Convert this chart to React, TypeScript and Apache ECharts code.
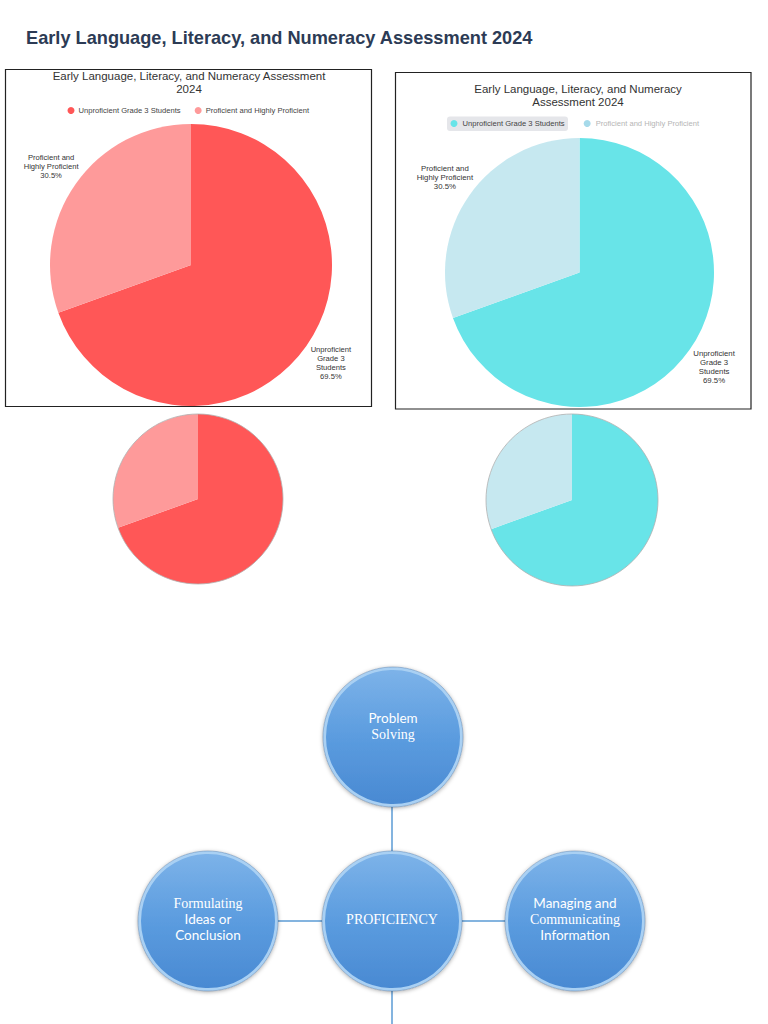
import React, { useEffect, useRef } from "react";
import * as echarts from "echarts";

// ---------- data ----------
const pageTitle = "Early Language, Literacy, and Numeracy Assessment 2024";
const leftChartTitle = "Early Language, Literacy, and Numeracy Assessment\n2024";
const rightChartTitle = "Early Language, Literacy, and Numeracy\nAssessment 2024";
const categories = ["Unproficient Grade 3 Students", "Proficient and Highly Proficient"];
const values = [69.5, 30.5];
const sliceLabels = ["Unproficient\nGrade 3\nStudents", "Proficient and\nHighly Proficient"];
const redColors = ["#FF5757", "#FE9A9A"];
const cyanColors = ["#68E4E8", "#C6E8F0"];

// diagram labels: [styleKey, text] per line ("s" = sans, "r" = serif)
const diagramCenterLabel: [string, string][] = [["r", "PROFICIENCY"]];
const diagramTopLabel: [string, string][] = [["s", "Problem"], ["r", "Solving"]];
const diagramLeftLabel: [string, string][] = [["r", "Formulating"], ["s", "Ideas or"], ["s", "Conclusion"]];
const diagramRightLabel: [string, string][] = [["s", "Managing and"], ["r", "Communicating"], ["s", "Information"]];

// ---------- layout ----------
const BIG_L = { cx: 191, cy: 265, r: 141 };
const BIG_R = { cx: 579.5, cy: 272.5, r: 134.5 };
const SMALL_L = { cx: 198, cy: 499, r: 85 };
const SMALL_R = { cx: 572, cy: 500, r: 86 };
const NODE_R = 70;
const N_TOP = { x: 393, y: 737 };
const N_CENTER = { x: 392, y: 921 };
const N_LEFT = { x: 208, y: 921 };
const N_RIGHT = { x: 575, y: 921 };

const pieData = (colors: string[]) =>
  categories.map((name, i) => ({ name, value: values[i], itemStyle: { color: colors[i] } }));

const bigPie = (pos: { cx: number; cy: number; r: number }, colors: string[], fontSize: number, lh: number) => ({
  type: "pie",
  center: [pos.cx, pos.cy],
  radius: pos.r,
  startAngle: 90,
  clockwise: true,
  avoidLabelOverlap: false,
  data: pieData(colors),
  emphasis: { disabled: true },
  label: {
    show: true,
    position: "outside",
    formatter: (p: any) => `{t|${sliceLabels[p.dataIndex]}\n${p.value}%}`,
    rich: {
      t: {
        width: 70,
        align: "center",
        fontSize,
        lineHeight: lh,
        color: "#333",
        fontFamily: "Liberation Sans, Arial, sans-serif",
      },
    },
  },
  labelLine: { show: false, length: 30, length2: -40 },
});

const smallPie = (pos: { cx: number; cy: number; r: number }, colors: string[]) => ({
  type: "pie",
  center: [pos.cx, pos.cy],
  radius: pos.r,
  startAngle: 90,
  clockwise: true,
  data: pieData(colors),
  emphasis: { disabled: true },
  label: { show: false },
  labelLine: { show: false },
});

const richStyles = {
  s: { fontFamily: "Lato, Liberation Sans, sans-serif", fontSize: 13.5, lineHeight: 16, fill: "#ffffff" },
  r: { fontFamily: "Liberation Serif, serif", fontSize: 14, lineHeight: 16, fill: "#ffffff" },
};

const nodeGraphics = (p: { x: number; y: number }, label: [string, string][], textDy: number) => [
  {
    type: "circle",
    z: 10,
    shape: { cx: p.x, cy: p.y, r: NODE_R - 1.5 },
    style: {
      fill: new echarts.graphic.LinearGradient(0, 0, 0, 1, [
        { offset: 0, color: "#7DB3E9" },
        { offset: 0.5, color: "#5B9CDF" },
        { offset: 1, color: "#4989D2" },
      ]),
      stroke: "#A9D0F3",
      lineWidth: 3,
      shadowBlur: 4,
      shadowOffsetY: 1,
      shadowColor: "rgba(0,0,0,0.35)",
    },
  },
  {
    type: "circle",
    z: 11,
    shape: { cx: p.x, cy: p.y, r: NODE_R },
    style: { fill: "none", stroke: "rgba(60,100,150,0.45)", lineWidth: 0.8 },
  },
  {
    type: "text",
    z: 12,
    style: {
      x: p.x,
      y: p.y + textDy,
      align: "center",
      verticalAlign: "middle",
      fill: "#ffffff",
      text: label.map(([k, t]) => `{${k}|${t}}`).join("\n"),
      rich: richStyles,
    },
  },
];

const connector = (x1: number, y1: number, x2: number, y2: number) => ({
  type: "line",
  z: 5,
  shape: { x1, y1, x2, y2 },
  style: { stroke: "#5B9BD5", lineWidth: 1.5 },
});

const option: any = {
  animation: false,
  backgroundColor: "#ffffff",
  title: [
    {
      text: pageTitle,
      left: 26,
      top: 28.5,
      padding: 0,
      textStyle: { fontSize: 18.2, fontWeight: "bold", color: "#2C3B55", fontFamily: "Liberation Sans, Arial, sans-serif" },
    },
    {
      text: leftChartTitle,
      left: 189,
      top: 70,
      textAlign: "center",
      padding: 0,
      textStyle: { fontSize: 11.5, fontWeight: "normal", lineHeight: 12.5, color: "#333", fontFamily: "Liberation Sans, Arial, sans-serif" },
    },
    {
      text: rightChartTitle,
      left: 578,
      top: 82.5,
      textAlign: "center",
      padding: 0,
      textStyle: { fontSize: 11.5, fontWeight: "normal", lineHeight: 13, color: "#333", fontFamily: "Liberation Sans, Arial, sans-serif" },
    },
  ],
  legend: [
    {
      left: 67.5,
      top: 106.5,
      padding: 0,
      icon: "circle",
      itemWidth: 7,
      itemHeight: 7,
      itemGap: 14,
      selectedMode: false,
      data: categories,
      textStyle: { fontSize: 7.6, color: "#444", fontFamily: "Liberation Sans, Arial, sans-serif", padding: [0, 0, 0, -1] },
    },
    {
      left: 450.5,
      top: 119.5,
      padding: 0,
      icon: "circle",
      itemWidth: 7,
      itemHeight: 7,
      itemGap: 19,
      selectedMode: false,
      data: [
        { name: categories[0], itemStyle: { color: cyanColors[0] }, textStyle: { color: "#444" } },
        { name: categories[1], itemStyle: { color: "#A6DAEA" }, textStyle: { color: "#B5B5B5" } },
      ],
      textStyle: { fontSize: 7.6, fontFamily: "Liberation Sans, Arial, sans-serif", padding: [0, 0, 0, 0] },
    },
  ],
  graphic: [
    {
      type: "rect",
      z: 0,
      shape: { x: 5.5, y: 69.5, width: 366, height: 337 },
      style: { fill: "none", stroke: "#222", lineWidth: 1.2 },
    },
    {
      type: "rect",
      z: 0,
      shape: { x: 395.5, y: 72.5, width: 355.5, height: 336.5 },
      style: { fill: "none", stroke: "#222", lineWidth: 1.2 },
    },
    {
      type: "rect",
      z: 0,
      shape: { x: 447, y: 116.5, width: 121, height: 14.5, r: 3 },
      style: { fill: "#E5E6EA" },
    },
    {
      type: "circle",
      z: 20,
      shape: { cx: SMALL_L.cx, cy: SMALL_L.cy, r: SMALL_L.r },
      style: { fill: "none", stroke: "#B0B0B0", lineWidth: 0.8 },
    },
    {
      type: "circle",
      z: 20,
      shape: { cx: SMALL_R.cx, cy: SMALL_R.cy, r: SMALL_R.r },
      style: { fill: "none", stroke: "#B0B0B0", lineWidth: 0.8 },
    },
    connector(392, N_TOP.y + NODE_R, 392, N_CENTER.y - NODE_R),
    connector(N_LEFT.x + NODE_R, N_CENTER.y, N_CENTER.x - NODE_R, N_CENTER.y),
    connector(N_CENTER.x + NODE_R, N_CENTER.y, N_RIGHT.x - NODE_R, N_CENTER.y),
    connector(392, N_CENTER.y + NODE_R, 392, 1030),
    ...nodeGraphics(N_TOP, diagramTopLabel, -11),
    ...nodeGraphics(N_CENTER, diagramCenterLabel, -2),
    ...nodeGraphics(N_LEFT, diagramLeftLabel, -2),
    ...nodeGraphics(N_RIGHT, diagramRightLabel, -2),
  ],
  series: [
    bigPie(BIG_L, redColors, 7.6, 9),
    bigPie(BIG_R, cyanColors, 7.8, 9),
    smallPie(SMALL_L, redColors),
    smallPie(SMALL_R, cyanColors),
  ],
};

export default function App() {
  const ref = useRef<HTMLDivElement>(null);
  useEffect(() => {
    if (!ref.current) return;
    const chart = echarts.init(ref.current, null, { renderer: "svg" });
    chart.setOption(option);
    return () => chart.dispose();
  }, []);
  return (
    <div
      ref={ref}
      style={{ position: "absolute", left: 0, top: 0, width: 768, height: 1024 }}
    />
  );
}
